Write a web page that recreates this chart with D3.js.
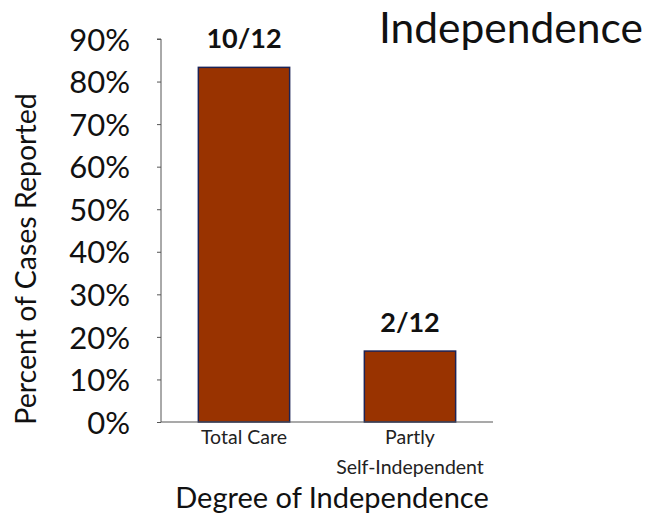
<!DOCTYPE html>
<html>
<head>
<meta charset="utf-8">
<script src="https://cdn.jsdelivr.net/npm/d3@7"></script>
<style>
  body { margin: 0; background: #fff; }
  text { font-family: Lato, "Open Sans", sans-serif; }
</style>
</head>
<body>
<svg id="chart" width="655" height="520"></svg>
<script>
// data
var categories = ["Total Care", "Partly\nSelf-Independent"];
var percents = [10 / 12 * 100, 2 / 12 * 100];
var barLabels = ["10/12", "2/12"];
var yTicks = [0, 10, 20, 30, 40, 50, 60, 70, 80, 90];

var svg = d3.select("#chart");

var x0 = 161, x1 = 493, yBase = 422, yTop = 39;

var x = d3.scaleBand().domain(categories).range([x0, x1]).paddingInner(0.45).paddingOuter(0.225);
var y = d3.scaleLinear().domain([0, 90]).range([yBase, yTop]);

// y axis
var yAxis = svg.append("g")
    .attr("transform", "translate(" + x0 + ",0)")
    .call(d3.axisLeft(y).tickValues(yTicks).tickSize(4).tickFormat(function(d){ return d + "%"; }));
yAxis.select(".domain").attr("stroke", "#555").attr("d", "M-4," + y(90) + "H0V" + y(0));
yAxis.selectAll(".tick line").attr("stroke", "#555");
yAxis.selectAll(".tick text")
    .attr("x", -31)
    .attr("dy", "0.36em")
    .style("font-size", "31px")
    .style("fill", "#111");

// bars
svg.selectAll("rect.bar")
    .data(percents)
    .enter().append("rect")
    .attr("class", "bar")
    .attr("x", function(d, i){ return x(categories[i]); })
    .attr("y", function(d){ return y(d); })
    .attr("width", x.bandwidth())
    .attr("height", function(d){ return yBase - y(d); })
    .attr("fill", "#993300")
    .attr("stroke", "#1c2356")
    .attr("stroke-width", 1.5);

// baseline
svg.append("line")
    .attr("x1", x0).attr("x2", x1)
    .attr("y1", yBase).attr("y2", yBase)
    .attr("stroke", "#555").attr("stroke-width", 1.2);

// value labels
svg.selectAll("text.val")
    .data(percents)
    .enter().append("text")
    .attr("class", "val")
    .attr("x", function(d, i){ return x(categories[i]) + x.bandwidth() / 2; })
    .attr("y", function(d){ return y(d) - 19; })
    .attr("text-anchor", "middle")
    .style("font-size", "27px")
    .style("font-weight", "bold")
    .style("fill", "#111")
    .text(function(d, i){ return barLabels[i]; });

// category labels
categories.forEach(function(c){
    var lines = c.split("\n");
    var t = svg.append("text")
        .attr("text-anchor", "middle")
        .style("font-size", "19.5px")
        .style("fill", "#222");
    lines.forEach(function(l, k){
        t.append("tspan")
            .attr("x", x(c) + x.bandwidth() / 2)
            .attr("y", 444 + k * 30)
            .text(l);
    });
});

// titles
svg.append("text")
    .attr("x", 379).attr("y", 43)
    .style("font-size", "42.5px")
    .style("fill", "#111")
    .text("Independence");

svg.append("text")
    .attr("transform", "translate(36,259) rotate(-90)")
    .attr("text-anchor", "middle")
    .style("font-size", "28.5px")
    .style("fill", "#111")
    .text("Percent of Cases Reported");

svg.append("text")
    .attr("x", 332).attr("y", 508)
    .attr("text-anchor", "middle")
    .style("font-size", "29px")
    .style("fill", "#111")
    .text("Degree of Independence");
</script>
</body>
</html>
